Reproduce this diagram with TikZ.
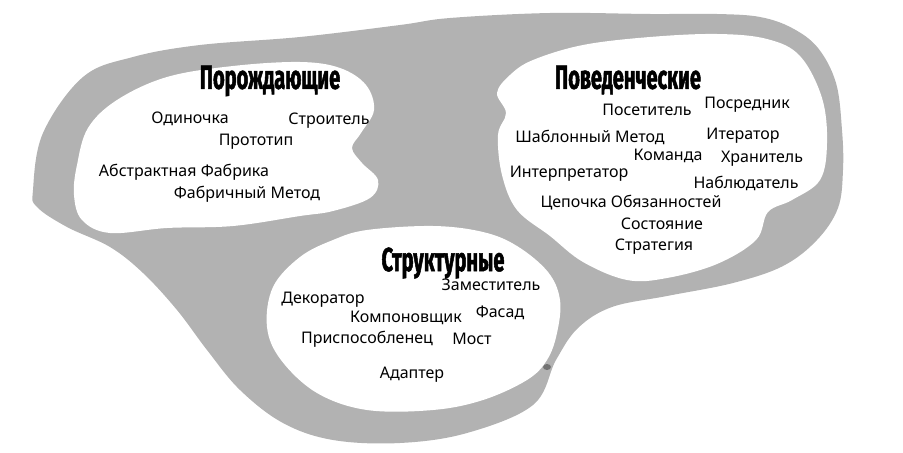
\documentclass[tikz,border=0pt]{standalone}
\usepackage{fontspec}
\setmainfont{Noto Sans}
\newfontfamily\titlefont[FakeStretch=0.6,FakeBold=1.5]{Fira Sans}

\begin{document}
\begin{tikzpicture}[x=0.75pt,y=0.75pt,yscale=-1,xscale=1]
		\tikzset{
			grp/.style={font=\titlefont\bfseries\fontsize{25}{28}\selectfont, inner sep=0.75pt},
			item/.style={font=\fontsize{12}{14}\selectfont, inner sep=0.75pt},
		}
		\useasboundingbox (0,0) rectangle (903,453);
		% grey field
		\fill [black!30] plot [smooth cycle, tension=0.6] coordinates {(33,190) (43,133) (83,77) (133,57) (200,45) (300,37) (400,25) (450,18) (550,13) (650,14) (717,14) (760,17) (792,28) (818,48) (836,83) (842,130) (843,170) (838,208) (817,240) (783,266) (733,283) (667,296) (612,307) (578,328) (556,360) (533,405) (467,433) (400,443) (333,440) (283,423) (240,390) (207,350) (177,310) (143,273) (110,247) (67,227) (37,207)};
		\fill [black!55] (547,367) ellipse [x radius=4, y radius=3];
		% white islands
		\fill [white] plot [smooth cycle, tension=0.6] coordinates {(77,165) (88,128) (117,100) (167,77) (233,66) (300,62) (340,68) (366,85) (374,110) (361,133) (352,148) (362,163) (378,180) (370,198) (333,211) (300,216) (233,226) (167,228) (110,233) (82,220) (74,195)};
		\fill [white] plot [smooth cycle, tension=0.6] coordinates {(510,75) (533,60) (583,45) (650,37) (717,34) (767,39) (800,56) (822,98) (827,143) (820,180) (792,200) (768,212) (756,240) (717,264) (667,278) (627,280) (583,262) (550,236) (517,210) (502,175) (498,135) (506,113) (497,93)};
		\fill [white] plot [smooth cycle, tension=0.6] coordinates {(333,240) (367,230) (433,226) (483,232) (517,246) (548,272) (560,300) (557,333) (547,360) (527,380) (483,400) (433,410) (367,410) (317,393) (281,360) (267,327) (273,287) (300,257)};
		% creational
		\draw (270,81) node [grp] (creational) {Порождающие};
		\draw (190,119) node [item] (singleton) {Одиночка};
		\draw (329,121) node [item] (builder) {Строитель};
		\draw (256,142) node [item] (prototype) {Прототип};
		\draw (184,172) node [item] (absfactory) {Абстрактная Фабрика};
		\draw (247,194) node [item] (factorymethod) {Фабричный Метод};
		% behavioral
		\draw (628,80) node [grp] (behavioral) {Поведенческие};
		\draw (647,110) node [item] (visitor) {Посетитель};
		\draw (747,105) node [item] (mediator) {Посредник};
		\draw (590,137) node [item] (template) {Шаблонный Метод};
		\draw (743,136) node [item] (iterator) {Итератор};
		\draw (668,156) node [item] (command) {Команда};
		\draw (762,159) node [item] (memento) {Хранитель};
		\draw (569,174) node [item] (interpreter) {Интерпретатор};
		\draw (746,183) node [item] (observer) {Наблюдатель};
		\draw (631,203) node [item] (chain) {Цепочка Обязанностей};
		\draw (662,224) node [item] (state) {Состояние};
		\draw (654,247) node [item] (strategy) {Стратегия};
		% structural
		\draw (443,263) node [grp] (structural) {Структурные};
		\draw (491,285) node [item] (proxy) {Заместитель};
		\draw (323,300) node [item] (decorator) {Декоратор};
		\draw (406,318) node [item] (composite) {Компоновщик};
		\draw (500,313) node [item] (facade) {Фасад};
		\draw (367,339) node [item] (flyweight) {Приспособленец};
		\draw (472,339) node [item] (bridge) {Мост};
		\draw (412,375) node [item] (adapter) {Адаптер};
		\end{tikzpicture}
\end{document}
